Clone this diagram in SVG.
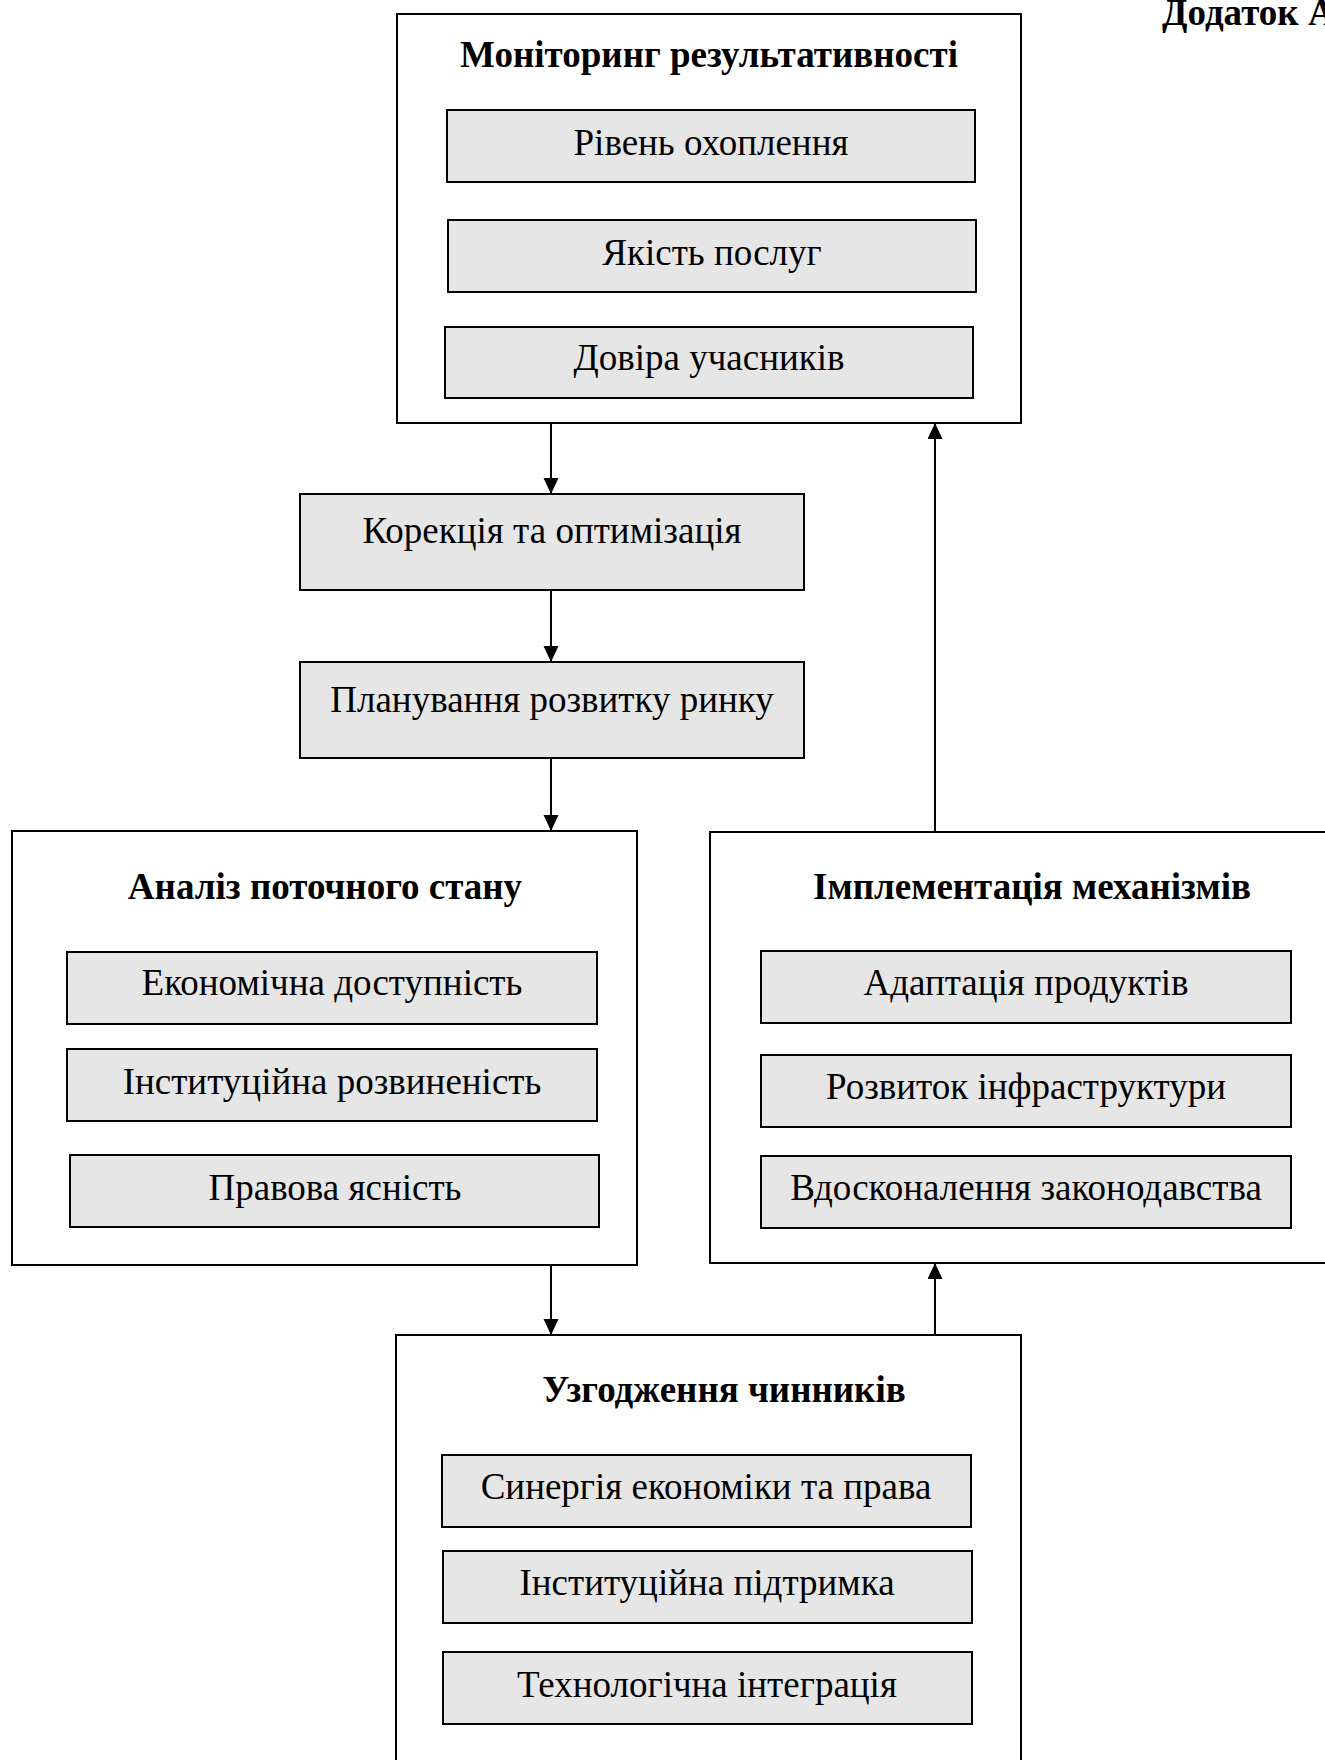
<svg xmlns="http://www.w3.org/2000/svg" width="1325" height="1760" viewBox="0 0 1325 1760">
<style>
.outer{fill:#fff;stroke:#000;stroke-width:2}
.inner{fill:#e6e6e6;stroke:#000;stroke-width:2}
.title{font-family:"Liberation Serif","Times New Roman",serif;font-weight:bold;font-size:37px;text-anchor:middle;fill:#000}
.lbl{font-family:"Liberation Serif","Times New Roman",serif;font-size:37px;text-anchor:middle;fill:#000}
.conn{stroke:#000;stroke-width:2;fill:none;marker-end:url(#ah)}
</style>
<defs>
<marker id="ah" markerUnits="userSpaceOnUse" markerWidth="16" markerHeight="16" refX="16" refY="7.5" orient="auto">
<path d="M0,0 L16,7.5 L0,15 Z" fill="#000"/>
</marker>
</defs>
<rect width="1325" height="1760" fill="#fff"/>
<text x="1162" y="25" style="font-family:'Liberation Serif','Times New Roman',serif;font-weight:bold;font-size:37px;fill:#000">Додаток А</text>

<g id="connectors">
<line class="conn" x1="551" y1="423" x2="551" y2="494"/>
<line class="conn" x1="551" y1="590" x2="551" y2="662"/>
<line class="conn" x1="551" y1="758" x2="551" y2="831"/>
<line class="conn" x1="551" y1="1265" x2="551" y2="1335"/>
<line class="conn" x1="935" y1="1335" x2="935" y2="1263"/>
<line class="conn" x1="935" y1="832" x2="935" y2="423"/>
</g>

<g id="monitoring">
<rect class="outer" x="397" y="14" width="624" height="409"/>
<text class="title" x="709" y="67">Моніторинг результативності</text>
<rect class="inner" x="447" y="110" width="528" height="72"/>
<text class="lbl" x="711" y="155">Рівень охоплення</text>
<rect class="inner" x="448" y="220" width="528" height="72"/>
<text class="lbl" x="712" y="265">Якість послуг</text>
<rect class="inner" x="445" y="327" width="528" height="71"/>
<text class="lbl" x="709" y="370">Довіра учасників</text>
</g>

<g id="correction">
<rect class="inner" x="300" y="494" width="504" height="96"/>
<text class="lbl" x="552" y="543">Корекція та оптимізація</text>
</g>

<g id="planning">
<rect class="inner" x="300" y="662" width="504" height="96"/>
<text class="lbl" x="552" y="712">Планування розвитку ринку</text>
</g>

<g id="analysis">
<rect class="outer" x="12" y="831" width="625" height="434"/>
<text class="title" x="325" y="899">Аналіз поточного стану</text>
<rect class="inner" x="67" y="952" width="530" height="72"/>
<text class="lbl" x="332" y="995">Економічна доступність</text>
<rect class="inner" x="67" y="1049" width="530" height="72"/>
<text class="lbl" x="332" y="1094">Інституційна розвиненість</text>
<rect class="inner" x="70" y="1155" width="529" height="72"/>
<text class="lbl" x="335" y="1200">Правова ясність</text>
</g>

<g id="implementation">
<rect class="outer" x="710" y="832" width="700" height="431"/>
<text class="title" x="1032" y="899">Імплементація механізмів</text>
<rect class="inner" x="761" y="951" width="530" height="72"/>
<text class="lbl" x="1026" y="995">Адаптація продуктів</text>
<rect class="inner" x="761" y="1055" width="530" height="72"/>
<text class="lbl" x="1026" y="1099">Розвиток інфраструктури</text>
<rect class="inner" x="761" y="1156" width="530" height="72"/>
<text class="lbl" x="1026" y="1200">Вдосконалення законодавства</text>
</g>

<g id="coordination">
<rect class="outer" x="396" y="1335" width="625" height="460"/>
<text class="title" x="724" y="1402">Узгодження чинників</text>
<rect class="inner" x="442" y="1455" width="529" height="72"/>
<text class="lbl" x="706" y="1499">Синергія економіки та права</text>
<rect class="inner" x="443" y="1551" width="529" height="72"/>
<text class="lbl" x="707" y="1595">Інституційна підтримка</text>
<rect class="inner" x="443" y="1652" width="529" height="72"/>
<text class="lbl" x="707" y="1697">Технологічна інтеграція</text>
</g>
</svg>
